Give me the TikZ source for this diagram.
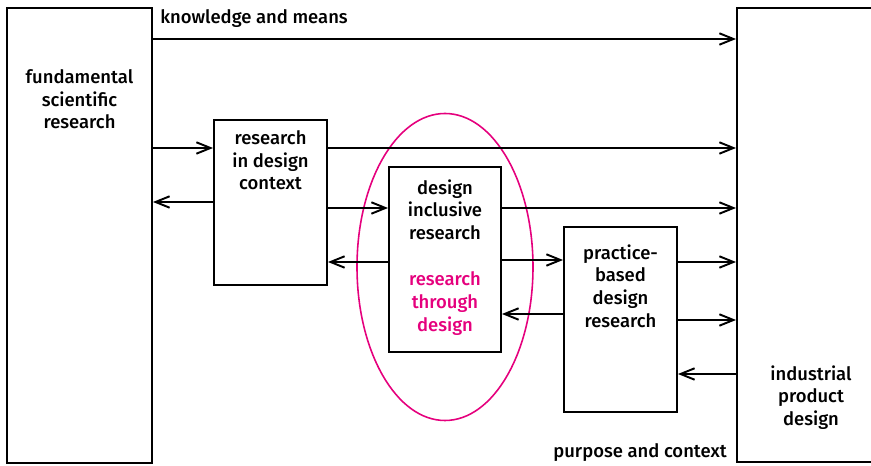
\documentclass[tikz,border=0pt]{standalone}
\usepackage{fontspec}
\setmainfont{Fira Sans}[UprightFont={* Medium}]
\usetikzlibrary{arrows.meta,shapes.geometric}
\definecolor{rtdpink}{HTML}{E5007D}
\begin{document}
\begin{tikzpicture}[x=0.2mm,y=-0.2mm,
box/.style={
	rectangle,draw=black,line width=1.1pt,inner sep=0pt},
txt/.style={align=center,inner sep=0pt,
	font=\fontsize{10.5}{13}\selectfont},
arr/.style={line width=1.1pt,-{Straight Barb[length=8pt,width=6.5pt,line width=1.1pt]}}
]
\useasboundingbox (0,0) rectangle (871,466);
% boxes
\node[box,minimum width=29mm,minimum height=91mm] (fsr) at (79.5,235.5) {};
\node[box,minimum width=29.6mm,minimum height=90.8mm] (ipd) at (811,235) {};
\node[box,minimum width=22.6mm,minimum height=33mm] (ridc) at (270.5,202.5) {};
\node[box,minimum width=22.4mm,minimum height=37mm] (dir) at (445,259.5) {};
\node[box,minimum width=22.6mm,minimum height=37mm] (pbdr) at (620.5,319.5) {};
\node[ellipse,draw=rtdpink,line width=0.9pt,minimum width=35.2mm,minimum height=61.4mm] (rtd) at (445,267) {};
% box texts
\node[txt,anchor=north] (fsrtxt) at ([yshift=-12.4mm]fsr.north) {fundamental\\scientific\\research};
\node[txt,anchor=north] (ridctxt) at ([yshift=-2.2mm]ridc.north) {research\\in design\\context};
\node[txt,anchor=north] (dirtxt) at ([yshift=-2.6mm]dir.north) {design\\inclusive\\research\\[\baselineskip]\textcolor{rtdpink}{research}\\\textcolor{rtdpink}{through}\\\textcolor{rtdpink}{design}};
\node[txt,anchor=north] (pbdrtxt) at ([yshift=-3.6mm]pbdr.north) {practice-\\based\\design\\research};
\node[txt,anchor=north] (ipdtxt) at ([yshift=-71.6mm]ipd.north) {industrial\\product\\design};
% flow labels
\node[txt,anchor=base west] (kam) at (160,24) {knowledge and means};
\node[txt,anchor=base east] (pac) at (727,458) {purpose and context};
% connectors
\draw[arr] (fsr.east |- 0,39) -- (ipd.west |- 0,39);
\draw[arr] (fsr.east |- 0,148) -- (ridc.west |- 0,148);
\draw[arr] (ridc.east |- 0,148) -- (ipd.west |- 0,148);
\draw[arr] (ridc.west |- 0,202) -- (fsr.east |- 0,202);
\draw[arr] (ridc.east |- 0,208) -- (dir.west |- 0,208);
\draw[arr] (dir.east |- 0,208) -- (ipd.west |- 0,208);
\draw[arr] (dir.west |- 0,262) -- (ridc.east |- 0,262);
\draw[arr] (dir.east |- 0,260) -- (pbdr.west |- 0,260);
\draw[arr] (pbdr.west |- 0,314) -- (dir.east |- 0,314);
\draw[arr] (pbdr.east |- 0,262) -- (ipd.west |- 0,262);
\draw[arr] (pbdr.east |- 0,320) -- (ipd.west |- 0,320);
\draw[arr] (ipd.west |- 0,374) -- (pbdr.east |- 0,374);
\end{tikzpicture}
\end{document}
